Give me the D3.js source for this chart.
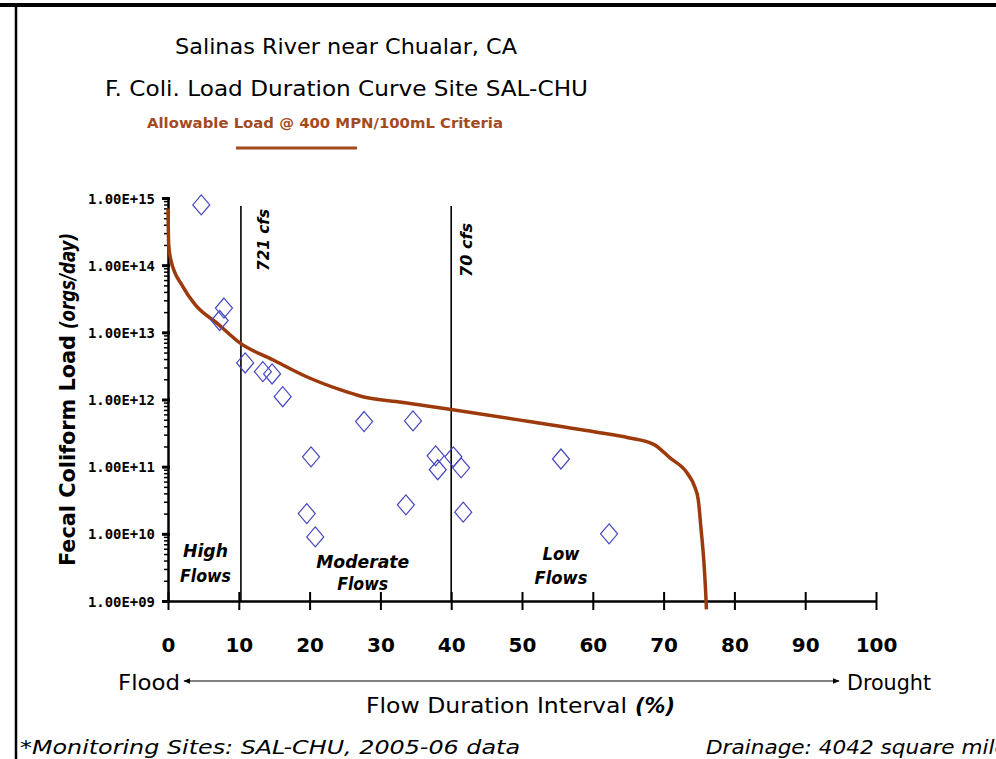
<!DOCTYPE html>
<html><head><meta charset="utf-8">
<script src="https://cdn.jsdelivr.net/npm/d3@7"></script>
<style>
html,body{margin:0;padding:0;background:#fff;}
svg{display:block;}
</style></head>
<body>
<svg id="chart" width="996" height="759"></svg>
<script>
// ---- data ----
const curveX = [0, 0.1, 0.4, 2.1, 3.8, 7, 10.2, 14.8, 19.5, 24.3, 27.5, 33, 40, 51, 61, 65, 68.6, 70.9, 73.3, 74.4, 74.9, 75.3, 75.7, 76.0, 76.05];
const curveY = [7e14, 2e14, 1.2e14, 4.8e13, 2.6e13, 1.35e13, 6.9e12, 3.9e12, 2.2e12, 1.4e12, 1.1e12, 9.1e11, 7.1e11, 4.7e11, 3.2e11, 2.7e11, 2.15e11, 1.35e11, 8.1e10, 5e10, 3.2e10, 1.15e10, 3.7e9, 1e9, 7.5e8];
const sampleX = [4.7, 7.9, 7.3, 10.9, 13.4, 14.7, 16.2, 20.2, 19.6, 20.8, 27.7, 34.6, 37.8, 38.1, 40.3, 41.4, 33.6, 41.7, 55.5, 62.3];
const sampleY = [7.9e14, 2.3e13, 1.5e13, 3.5e12, 2.6e12, 2.4e12, 1.1e12, 1.4e11, 2.0e10, 9e9, 4.7e11, 4.8e11, 1.45e11, 9e10, 1.4e11, 9.6e10, 2.7e10, 2.1e10, 1.3e11, 1.0e10];
const xTicks = [0, 10, 20, 30, 40, 50, 60, 70, 80, 90, 100];
const yTicks = [1e9, 1e10, 1e11, 1e12, 1e13, 1e14, 1e15];
const yTickLabels = ["1.00E+09", "1.00E+10", "1.00E+11", "1.00E+12", "1.00E+13", "1.00E+14", "1.00E+15"];
const flowLineX = [10.3, 40];
const flowLineLabels = ["721 cfs", "70 cfs"];
const zoneNames = [["High", "Flows"], ["Moderate", "Flows"], ["Low", "Flows"]];
const zoneX = [5.3, 27.5, 55.5];

// ---- layout ----
const svg = d3.select("#chart");
const X0 = 168, X1 = 876, Y0 = 601, Y1 = 198;
const x = d3.scaleLinear().domain([0, 100]).range([X0, X1]);
const y = d3.scaleLog().domain([1e9, 1e15]).range([Y0, Y1]);
const comic = "'DejaVu Sans', sans-serif";
const curveColor = "#9C3A0C";
const legendColor = "#A34B1F";

// frame
svg.append("line").attr("x1", 0).attr("x2", 996).attr("y1", 5).attr("y2", 5).attr("stroke", "#000").attr("stroke-width", 4);
svg.append("line").attr("x1", 16).attr("x2", 16).attr("y1", 5).attr("y2", 759).attr("stroke", "#000").attr("stroke-width", 2.5);

function txt(s, xx, yy, opts) {
  const t = svg.append("text").attr("x", xx).attr("y", yy).text(s)
    .attr("font-family", opts.family || comic)
    .attr("font-size", opts.size)
    .attr("fill", opts.fill || "#000");
  if (opts.weight) t.attr("font-weight", opts.weight);
  if (opts.style) t.attr("font-style", opts.style);
  if (opts.anchor) t.attr("text-anchor", opts.anchor);
  if (opts.len) t.attr("textLength", opts.len).attr("lengthAdjust", "spacingAndGlyphs");
  if (opts.transform) t.attr("transform", opts.transform);
  return t;
}

// titles
txt("Salinas River near Chualar, CA", 175, 54, {size: 21, len: 342});
txt("F. Coli. Load Duration Curve Site SAL-CHU", 105, 96, {size: 21, len: 483});
txt("Allowable Load @ 400 MPN/100mL Criteria", 147, 128, {size: 13.5, weight: "bold", fill: legendColor, len: 356});
svg.append("line").attr("x1", 236).attr("x2", 357).attr("y1", 148).attr("y2", 148).attr("stroke", legendColor).attr("stroke-width", 3);

// flow region vertical lines
const fl = svg.append("g");
flowLineX.forEach((v, i) => {
  fl.append("line").attr("x1", x(v)).attr("x2", x(v)).attr("y1", 206).attr("y2", Y0)
    .attr("stroke", "#000").attr("stroke-width", 1.6);
});
txt(flowLineLabels[0], 0, 0, {size: 15, weight: "bold", style: "italic", len: 62, transform: `translate(${x(flowLineX[0]) + 28},271) rotate(-90)`});
txt(flowLineLabels[1], 0, 0, {size: 15, weight: "bold", style: "italic", len: 54, transform: `translate(${x(flowLineX[1]) + 21},277) rotate(-90)`});

// zone labels
const zoneY = [[557, 582], [568, 590], [560, 584]];
const zoneLen = [[45, 51], [93, 51], [37, 53]];
zoneNames.forEach((nm, i) => {
  nm.forEach((w, j) => {
    txt(w, x(zoneX[i]), zoneY[i][j], {size: 18, weight: "bold", style: "italic", anchor: "middle", len: zoneLen[i][j]});
  });
});

// y axis
const yMinor = [];
yTicks.slice(0, -1).forEach(d => { for (let k = 2; k <= 9; k++) yMinor.push(d * k); });
const gyMinor = svg.append("g").attr("transform", `translate(${X0},0)`)
  .call(d3.axisLeft(y).tickValues(yMinor).tickFormat("").tickSize(4).tickSizeOuter(0));
gyMinor.select(".domain").remove();
gyMinor.selectAll(".tick line").attr("stroke", "#000").attr("stroke-width", 1.5);
const gy = svg.append("g").attr("transform", `translate(${X0},0)`)
  .call(d3.axisLeft(y).tickValues(yTicks).tickFormat((d, i) => yTickLabels[i]).tickSize(6).tickSizeOuter(0).tickPadding(8));
gy.select(".domain").attr("stroke", "#000").attr("stroke-width", 2.5);
gy.selectAll(".tick line").attr("stroke", "#000").attr("stroke-width", 3).attr("x2", -6).attr("x1", 2);
gy.selectAll(".tick text").attr("font-family", "'DejaVu Sans Mono', monospace").attr("font-weight", "bold")
  .attr("font-size", 14.5).attr("fill", "#000").attr("textLength", 67).attr("lengthAdjust", "spacingAndGlyphs")
  .attr("x", -13).attr("dy", "0.35em");

// x axis
const gx = svg.append("g").attr("transform", `translate(0,${Y0})`)
  .call(d3.axisBottom(x).tickValues(xTicks).tickSize(9).tickSizeOuter(0).tickPadding(42));
gx.select(".domain").attr("stroke", "#000").attr("stroke-width", 2.5);
gx.selectAll(".tick line").attr("stroke", "#000").attr("stroke-width", 2).attr("y1", -9).attr("y2", 9);
gx.selectAll(".tick text").attr("font-family", comic).attr("font-weight", "bold").attr("font-size", 20).attr("fill", "#000").attr("dy", "0");

// y axis label
txt("Fecal Coliform Load", 0, 0, {size: 21, weight: "bold", len: 231, transform: "translate(75,566) rotate(-90)"});
txt("(orgs/day)", 0, 0, {size: 21, weight: "bold", style: "italic", len: 96, transform: "translate(75,329) rotate(-90)"});

// allowable load curve
const pts = curveX.map((v, i) => [v, curveY[i]]);
svg.append("path").datum(pts)
  .attr("d", d3.line().x(d => x(d[0])).y(d => y(d[1])).curve(d3.curveMonotoneX))
  .attr("fill", "none").attr("stroke", curveColor).attr("stroke-width", 3.5).attr("stroke-linejoin", "round");

// sample diamonds
const diamond = "M0,-10 L8.5,0 L0,10 L-8.5,0 Z";
svg.append("g").selectAll("path").data(sampleX.map((v, i) => [v, sampleY[i]])).join("path")
  .attr("d", diamond)
  .attr("transform", d => `translate(${x(d[0])},${y(d[1])})`)
  .attr("fill", "none").attr("stroke", "#4646C0").attr("stroke-width", 1.2);

// flood / drought arrow
const defs = svg.append("defs");
defs.append("marker").attr("id", "ah").attr("viewBox", "0 0 10 10").attr("refX", 9).attr("refY", 5)
  .attr("markerWidth", 7).attr("markerHeight", 7).attr("markerUnits", "userSpaceOnUse").attr("orient", "auto-start-reverse")
  .append("path").attr("d", "M0,1 L10,5 L0,9 Z").attr("fill", "#000");
svg.append("line").attr("x1", 184).attr("x2", 839).attr("y1", 681).attr("y2", 681)
  .attr("stroke", "#000").attr("stroke-width", 1)
  .attr("marker-start", "url(#ah)").attr("marker-end", "url(#ah)");
txt("Flood", 118, 690, {size: 21, len: 62});
txt("Drought", 847, 690, {size: 21, len: 84});

// x axis title
txt("Flow Duration Interval", 366, 713, {size: 22, len: 261});
txt("(%)", 635, 713, {size: 22, weight: "bold", style: "italic", len: 40});

// footer
txt("*Monitoring Sites: SAL-CHU, 2005-06 data", 20, 754, {size: 19, style: "italic", len: 500});
txt("Drainage: 4042 square miles", 706, 754, {size: 19, style: "italic", len: 313});
</script>
</body></html>
